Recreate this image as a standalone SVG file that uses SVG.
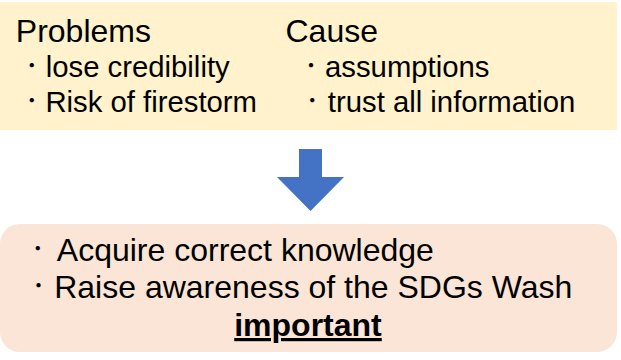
<svg xmlns="http://www.w3.org/2000/svg" width="621" height="360" viewBox="0 0 621 360">
  <style>
    text { font-family: "Liberation Sans", Arial, "Noto Sans CJK JP", sans-serif; fill: #000; }
    .head { font-size: 32px; }
    .item { font-size: 29.3px; }
    .big { font-size: 32px; }
    .bold { font-weight: bold; text-decoration: underline; }
    .dot { font-family: "Noto Sans CJK JP", sans-serif; font-size: 20px; }
  </style>
  <rect width="621" height="360" fill="#ffffff"/>
  <g id="problems-cause">
    <rect x="0" y="2" width="617" height="128" fill="#FFF2CC"/>
    <text class="head" x="15.8" y="41.7">Problems</text>
    <text class="head" x="285.5" y="41.7">Cause</text>
    <text class="dot" x="21.7" y="72.7">・</text>
    <text class="item" x="45.7" y="76.7">lose credibility</text>
    <text class="dot" x="21.7" y="107.7">・</text>
    <text class="item" x="45.4" y="111.7">Risk of firestorm</text>
    <text class="dot" x="301" y="72.7">・</text>
    <text class="item" x="325" y="76.7">assumptions</text>
    <text class="dot" x="302.3" y="107.7">・</text>
    <text class="item" x="327.8" y="111.7">trust all information</text>
  </g>
  <g id="connectors">
    <polygon points="299,149 322,149 322,177 344,177 310.5,211 277,177 299,177" fill="#4472C4"/>
  </g>
  <g id="solution">
    <rect x="0" y="224" width="617" height="128" rx="20" ry="20" fill="#FBE5D6"/>
    <text class="dot" x="27.7" y="256">・</text>
    <text class="big" x="56.8" y="261">Acquire correct knowledge</text>
    <text class="dot" x="28.5" y="293">・</text>
    <text class="big" x="54.2" y="298">Raise awareness of the SDGs Wash</text>
    <text class="big bold" x="308" y="336" text-anchor="middle">important</text>
  </g>
</svg>
